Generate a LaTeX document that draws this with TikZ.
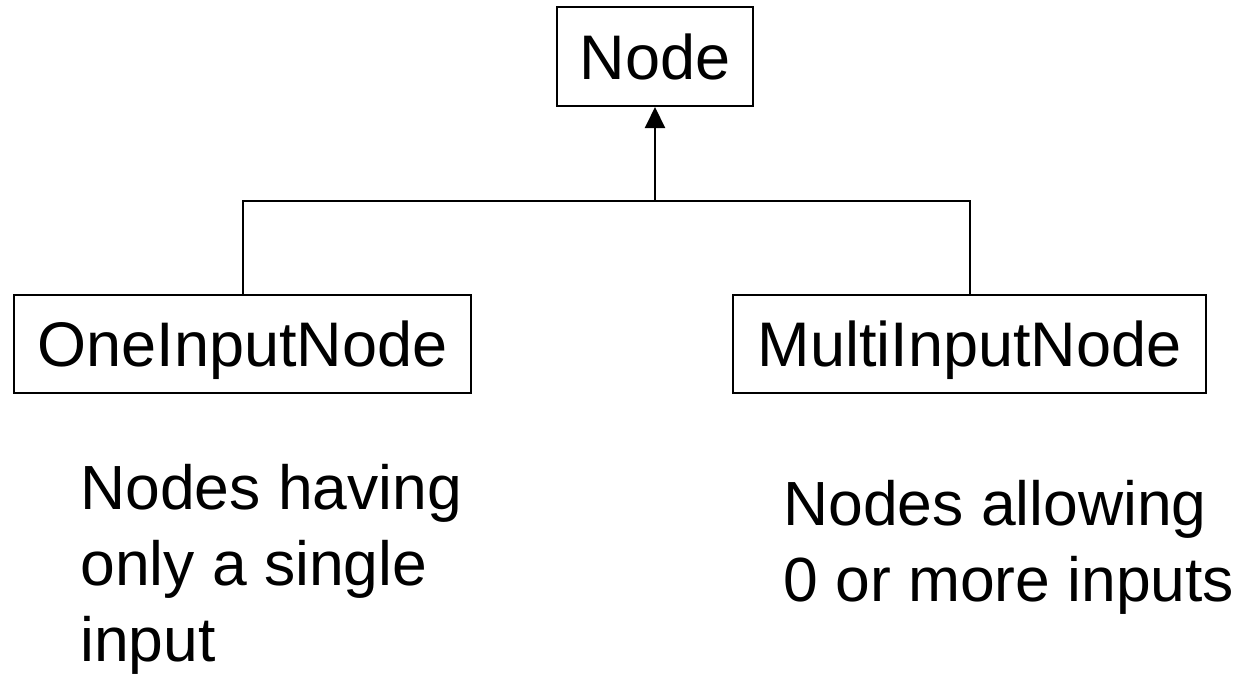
\documentclass[tikz,border=0pt]{standalone}
\usepackage{fontspec}
\setmainfont{Liberation Sans}
\usetikzlibrary{arrows.meta, positioning}
\tikzset{classbox/.style={draw, line width=1pt, inner sep=0pt, text height=22.5pt, text depth=0pt,
    font=\fontsize{31.5pt}{38pt}\selectfont},
    note/.style={anchor=north west, align=left, inner sep=0pt,
    font=\fontsize{31.2pt}{38pt}\selectfont}}

\begin{document}
\begin{tikzpicture}[x=0.5pt, y=-0.5pt]
        \useasboundingbox (0,0) rectangle (1251,675);
        \node[classbox, minimum width=98pt, minimum height=49.5pt] (node) at (655,56.5) {Node};
        \node[classbox, minimum width=228.5pt, minimum height=49pt] (one) at (242.5,344) {OneInputNode};
        \node[classbox, minimum width=236.5pt, minimum height=49pt] (multi) at (969.5,344) {MultiInputNode};
        \coordinate (join) at (655,201);
        \draw[line width=1pt] (one.north) |- (join) -| (multi.north);
        \draw[line width=1pt, -{Triangle[length=10.5pt, width=10pt]}] (join) -- (node.south);
        \node[note] (onetext) at (80,464) {Nodes having\\only a single\\input};
        \node[note] (multitext) at (783,480) {Nodes allowing\\0 or more inputs};
    \end{tikzpicture}
\end{document}
